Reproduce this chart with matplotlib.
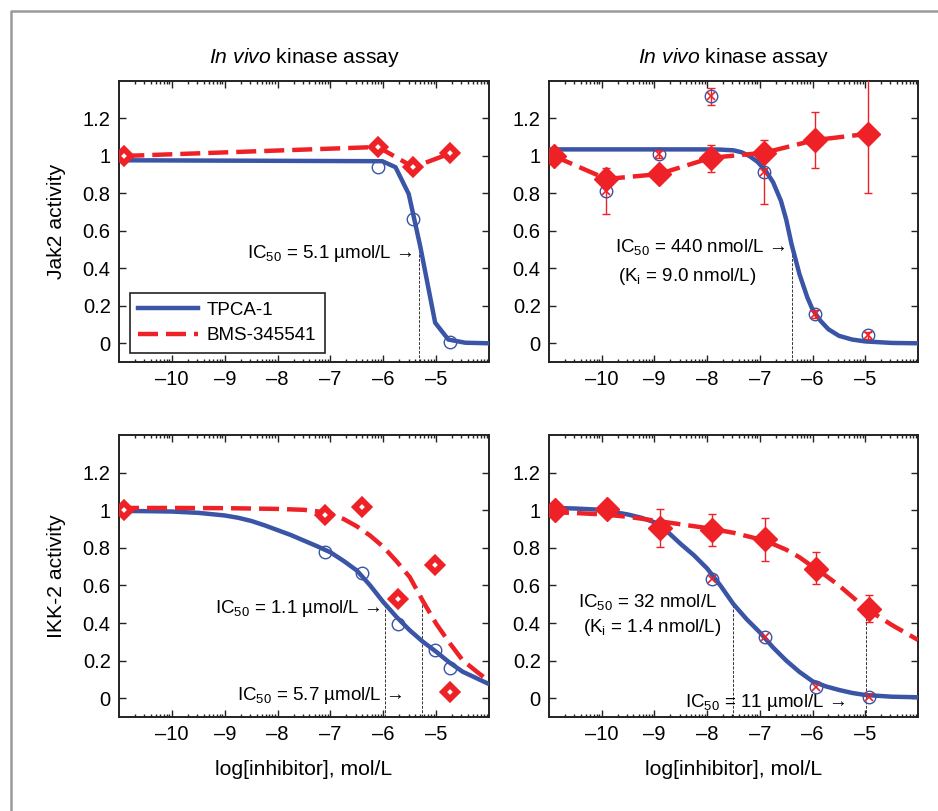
import matplotlib
matplotlib.use("Agg")
import matplotlib.pyplot as plt
import numpy as np
from matplotlib.lines import Line2D

plt.rcParams['font.family'] = ['Liberation Sans', 'DejaVu Sans']
plt.rcParams['mathtext.fontset'] = 'custom'
plt.rcParams['mathtext.rm'] = 'Liberation Sans'
plt.rcParams['mathtext.it'] = 'Liberation Sans:italic'
plt.rcParams['mathtext.bf'] = 'Liberation Sans:bold'

BLUE = '#3a54a6'
RED = '#ee2226'

# ---- panel A: Jak2, in vivo (top left)
a_bms_x = [-10.9, -6.1, -5.43, -4.73]
a_bms_y = [1.0, 1.048, 0.94, 1.014]
a_tpca_x = [-6.1, -5.43, -4.73]
a_tpca_y = [0.94, 0.665, 0.007]
a_fit_x = [-11, -6.02, -5.77, -5.52, -5.30, -5.02, -4.77, -4.45, -4.0]
a_fit_y = [0.977, 0.972, 0.94, 0.797, 0.515, 0.11, 0.02, 0.003, 0.0]
a_ic50_x = [-5.32]
a_ic50_y = [0.50]

# ---- panel B: Jak2 (top right)
b_bms_x = [-10.91, -9.91, -8.92, -7.93, -6.92, -5.95, -4.95]
b_bms_y = [1.0, 0.877, 0.903, 0.99, 1.017, 1.085, 1.118]
b_tpca_x = [-9.91, -8.92, -7.93, -6.92, -5.95, -4.95]
b_tpca_y = [0.815, 1.009, 1.321, 0.915, 0.157, 0.042]
b_err_x = [-9.91, -7.93, -6.92, -5.95, -4.95, -7.93, -5.95, -4.95, -8.92]
b_err_lo = [0.69, 0.917, 0.741, 0.935, 0.803, 1.27, 0.135, 0.025, 0.99]
b_err_hi = [0.938, 1.058, 1.086, 1.233, 1.50, 1.365, 0.18, 0.06, 1.03]
b_fit_x = [-11, -8.0, -7.75, -7.5, -7.35, -7.2, -7.05, -6.9, -6.75, -6.6,
           -6.5, -6.4, -6.25, -6.1, -6.0, -5.85, -5.7, -5.5, -5.25, -5.0,
           -4.5, -4.0]
b_fit_y = [1.035, 1.035, 1.034, 1.03, 1.02, 1.0, 0.97, 0.925, 0.86, 0.76,
           0.66, 0.53, 0.37, 0.245, 0.18, 0.12, 0.075, 0.04, 0.02, 0.01,
           0.002, 0.0]
b_ic50_x = [-6.39]
b_ic50_y = [0.515]

# ---- panel C: IKK-2, in vivo (bottom left)
c_bms_x = [-10.9, -7.11, -6.41, -5.72, -5.02, -4.73]
c_bms_y = [1.0, 0.973, 1.017, 0.529, 0.711, 0.032]
c_tpca_x = [-7.11, -6.41, -5.72, -5.02, -4.73]
c_tpca_y = [0.779, 0.668, 0.397, 0.256, 0.162]
c_fit_t_x = [-11, -10.5, -10, -9.5, -9, -8.75, -8.5, -8.25, -8, -7.75, -7.5,
             -7.25, -7, -6.75, -6.5, -6.25, -6, -5.75, -5.5, -5.25, -5,
             -4.75, -4.5, -4.25, -4.03]
c_fit_t_y = [0.996, 0.995, 0.993, 0.986, 0.972, 0.96, 0.943, 0.92, 0.894,
             0.868, 0.838, 0.808, 0.776, 0.73, 0.679, 0.60, 0.511, 0.432,
             0.361, 0.30, 0.247, 0.19, 0.141, 0.108, 0.079]
c_fit_b_x = [-11, -10, -9, -8, -7.5, -7.25, -7, -6.75, -6.5, -6.25, -6,
             -5.75, -5.5, -5.24, -5, -4.75, -4.5, -4.25, -4.03]
c_fit_b_y = [1.012, 1.012, 1.011, 1.007, 1.002, 0.994, 0.981, 0.953, 0.914,
             0.865, 0.805, 0.728, 0.644, 0.511, 0.396, 0.295, 0.202, 0.145,
             0.097]
c_ic50_x = [-5.96, -5.27]
c_ic50_y = [0.49, 0.51]

# ---- panel D: IKK-2 (bottom right)
d_bms_x = [-10.89, -9.9, -8.9, -7.9, -6.9, -5.93, -4.93]
d_bms_y = [1.0, 1.005, 0.905, 0.894, 0.847, 0.688, 0.476]
d_err_lo = [1.0, 0.985, 0.802, 0.811, 0.732, 0.605, 0.405]
d_err_hi = [1.0, 1.025, 1.009, 0.979, 0.958, 0.776, 0.547]
d_tpca_x = [-7.9, -6.9, -5.93, -4.93]
d_tpca_y = [0.635, 0.326, 0.058, 0.009]
d_fit_t_x = [-11, -10.5, -10, -9.5, -9.25, -9, -8.75, -8.5, -8.25, -8,
             -7.75, -7.5, -7.25, -7, -6.75, -6.5, -6.25, -6, -5.75, -5.5,
             -5.25, -5, -4.5, -4]
d_fit_t_y = [1.013, 1.009, 1.002, 0.977, 0.96, 0.936, 0.885, 0.82, 0.76,
             0.69, 0.60, 0.5, 0.42, 0.35, 0.27, 0.2, 0.14, 0.09, 0.063,
             0.044, 0.028, 0.017, 0.008, 0.005]
d_fit_b_x = [-11, -10.5, -10, -9.5, -9, -8.5, -8, -7.5, -7, -6.75, -6.5,
             -6.25, -6, -5.75, -5.5, -5.25, -5, -4.75, -4.5, -4.25, -4]
d_fit_b_y = [0.99, 0.985, 0.978, 0.965, 0.945, 0.925, 0.905, 0.88, 0.845,
             0.82, 0.79, 0.75, 0.7, 0.652, 0.6, 0.54, 0.48, 0.435, 0.39,
             0.35, 0.31]
d_ic50_x = [-7.51, -4.99]
d_ic50_y = [0.494, 0.47]

x_ticks = [-10, -9, -8, -7, -6, -5]
x_labels = ['\u201310', '\u20139', '\u20138', '\u20137', '\u20136', '\u20135']
y_ticks = [0, 0.2, 0.4, 0.6, 0.8, 1.0, 1.2]
y_labels = ['0', '0.2', '0.4', '0.6', '0.8', '1', '1.2']

FS = 14.5
TFS = 15.2
DASH = (4.5, 1.8)


def style(ax):
    ax.set_xlim(-11, -4)
    ax.set_ylim(-0.1, 1.4)
    ax.set_xticks(x_ticks)
    ax.set_xticklabels(x_labels, fontsize=FS)
    ax.set_yticks(y_ticks)
    ax.set_yticklabels(y_labels, fontsize=FS)
    minor = [n + np.log10(k) for n in range(-11, -4) for k in range(2, 10)]
    ax.set_xticks(minor, minor=True)
    ax.tick_params(which='both', direction='in', top=True, right=True,
                   width=1.0, color='#222222')
    ax.tick_params(which='major', length=5, pad=6)
    ax.tick_params(which='minor', length=2.5)
    for s in ax.spines.values():
        s.set_linewidth(1.4)
        s.set_color('#222222')


def ic50_lines(ax, xs, ys):
    for x, y in zip(xs, ys):
        ax.plot([x, x], [-0.1, y], color='#333333', lw=0.7,
                ls=(0, (3, 1.5)), zorder=1)


def hollow_diamonds(ax, xs, ys):
    ax.plot(xs, ys, 'D', mfc='white', mec=RED, ms=7.5, mew=4.2, zorder=5)


fig = plt.figure(figsize=(9.38, 8.11), dpi=100)
axA = fig.add_axes([0.1269, 0.5536, 0.3945, 0.3465])
axB = fig.add_axes([0.5853, 0.5536, 0.3934, 0.3465])
axC = fig.add_axes([0.1269, 0.1159, 0.3945, 0.3477])
axD = fig.add_axes([0.5853, 0.1159, 0.3934, 0.3477])

# panel A
ic50_lines(axA, a_ic50_x, a_ic50_y)
axA.plot(a_fit_x, a_fit_y, color=BLUE, lw=3.2, zorder=3)
axA.plot(a_tpca_x, a_tpca_y, 'o', mfc='none', mec=BLUE, ms=9, mew=1.0, zorder=4)
axA.plot(a_bms_x, a_bms_y, color=RED, lw=3.2, dashes=DASH, zorder=4)
hollow_diamonds(axA, a_bms_x, a_bms_y)
axA.text(-5.45, 0.48, 'IC$_{50}$ = 5.1 \u00b5mol/L \u2192', ha='right',
         va='center', fontsize=FS - 1)
leg_handles = [Line2D([], [], color=BLUE, lw=3.2),
               Line2D([], [], color=RED, lw=3.2, dashes=DASH)]
leg = axA.legend(leg_handles, ['TPCA-1', 'BMS-345541'], loc='lower left',
                 bbox_to_anchor=(0.004, 0.0), fontsize=FS - 1, fancybox=False,
                 edgecolor='#222222', framealpha=1, handlelength=3.2,
                 handletextpad=0.45, borderpad=0.45, labelspacing=0.45)
leg.get_frame().set_linewidth(1.2)

# panel B
ic50_lines(axB, b_ic50_x, b_ic50_y)
axB.plot(b_fit_x, b_fit_y, color=BLUE, lw=3.2, zorder=3)
b_mid = [(lo + hi) / 2 for lo, hi in zip(b_err_lo, b_err_hi)]
b_half = [(hi - lo) / 2 for lo, hi in zip(b_err_lo, b_err_hi)]
axB.errorbar(b_err_x, b_mid, yerr=b_half, fmt='none', ecolor=RED,
             elinewidth=1.0, capsize=3, capthick=1.0, zorder=4)
axB.plot(b_tpca_x, b_tpca_y, 'o', mfc='none', mec=BLUE, ms=9, mew=1.0, zorder=4)
axB.plot(b_tpca_x, b_tpca_y, 'x', color=RED, ms=6, mew=1.2, zorder=4)
axB.plot(b_bms_x, b_bms_y, color=RED, lw=3.2, dashes=DASH, marker='D',
         mfc=RED, mec=RED, ms=12, zorder=5)
axB.text(-9.75, 0.515, 'IC$_{50}$ = 440 nmol/L \u2192', ha='left',
         va='center', fontsize=FS - 1)
axB.text(-9.7, 0.356, '(K$_\\mathrm{i}$ = 9.0 nmol/L)', ha='left',
         va='center', fontsize=FS - 1)

# panel C
ic50_lines(axC, c_ic50_x, c_ic50_y)
axC.plot(c_fit_t_x, c_fit_t_y, color=BLUE, lw=3.2, zorder=3)
axC.plot(c_fit_b_x, c_fit_b_y, color=RED, lw=3.2, dashes=DASH, zorder=3)
axC.plot(c_tpca_x, c_tpca_y, 'o', mfc='none', mec=BLUE, ms=9, mew=1.0, zorder=4)
hollow_diamonds(axC, c_bms_x, c_bms_y)
axC.text(-6.05, 0.476, 'IC$_{50}$ = 1.1 \u00b5mol/L \u2192', ha='right',
         va='center', fontsize=FS - 1)
axC.text(-5.63, 0.012, 'IC$_{50}$ = 5.7 \u00b5mol/L \u2192', ha='right',
         va='center', fontsize=FS - 1)

# panel D
ic50_lines(axD, d_ic50_x, d_ic50_y)
axD.plot(d_fit_t_x, d_fit_t_y, color=BLUE, lw=3.2, zorder=3)
axD.plot(d_fit_b_x, d_fit_b_y, color=RED, lw=3.2, dashes=DASH, zorder=3)
d_mid = [(lo + hi) / 2 for lo, hi in zip(d_err_lo, d_err_hi)]
d_half = [(hi - lo) / 2 for lo, hi in zip(d_err_lo, d_err_hi)]
axD.errorbar(d_bms_x, d_mid, yerr=d_half, fmt='none', ecolor=RED,
             elinewidth=1.0, capsize=3, capthick=1.0, zorder=4)
axD.plot(d_tpca_x, d_tpca_y, 'o', mfc='none', mec=BLUE, ms=9, mew=1.0, zorder=4)
axD.plot(d_tpca_x, d_tpca_y, 'x', color=RED, ms=6, mew=1.2, zorder=4)
axD.plot(d_bms_x, d_bms_y, 'D', mfc=RED, mec=RED, ms=12, zorder=5)
axD.text(-10.45, 0.511, 'IC$_{50}$ = 32 nmol/L', ha='left',
         va='center', fontsize=FS - 1)
axD.text(-10.35, 0.376, '(K$_\\mathrm{i}$ = 1.4 nmol/L)', ha='left',
         va='center', fontsize=FS - 1)
axD.text(-5.38, -0.023, 'IC$_{50}$ = 11 \u00b5mol/L \u2192', ha='right',
         va='center', fontsize=FS - 1)

for ax in (axA, axB, axC, axD):
    style(ax)
for ax in (axA, axB):
    ax.set_title('$\\it{In\\ vivo}$ kinase assay', fontsize=TFS, pad=13)

axA.set_ylabel('Jak2 activity', fontsize=TFS, labelpad=12)
axC.set_ylabel('IKK-2 activity', fontsize=TFS, labelpad=12)
axC.set_xlabel('log[inhibitor], mol/L', fontsize=TFS, labelpad=11)
axD.set_xlabel('log[inhibitor], mol/L', fontsize=TFS, labelpad=11)

# grey frame around the figure
fig.add_artist(Line2D([10.5 / 938, 10.5 / 938, 1.0],
                      [0.0, 1 - 10.5 / 811, 1 - 10.5 / 811],
                      transform=fig.transFigure, color='#9a9a9a', lw=1.8))

fig.savefig('out.png', dpi=100)
